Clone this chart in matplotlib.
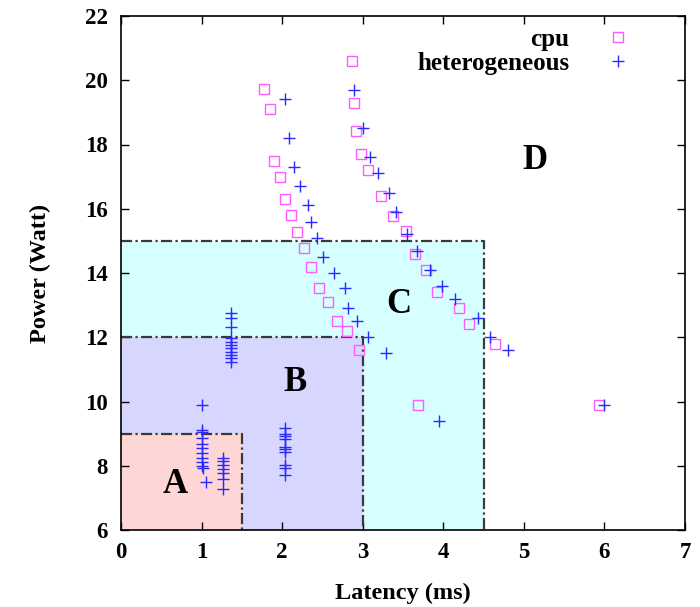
import matplotlib
matplotlib.use("Agg")
import matplotlib.pyplot as plt
from matplotlib.patches import Rectangle

plt.rcParams['font.family'] = ['Liberation Serif', 'DejaVu Serif']

# CPU data (latency ms, power W)
cpu_x = [1.78, 1.845, 1.90, 1.97, 2.035, 2.11, 2.18, 2.27, 2.36, 2.46, 2.57, 2.68, 2.81, 2.95,
         2.87, 2.89, 2.92, 2.98, 3.07, 3.23, 3.38, 3.54, 3.65, 3.78, 3.92, 4.19, 4.32, 4.64,
         3.69, 5.93]
cpu_y = [19.72, 19.10, 17.50, 17.00, 16.29, 15.80, 15.29, 14.79, 14.20, 13.52, 13.09, 12.51, 12.20, 11.59,
         20.61, 19.30, 18.42, 17.71, 17.21, 16.41, 15.78, 15.31, 14.60, 14.09, 13.40, 12.90, 12.40, 11.79,
         9.89, 9.89]

# Heterogeneous data
het_x = [2.04, 2.09, 2.15, 2.22, 2.32, 2.36, 2.43, 2.51, 2.64, 2.78, 2.82, 2.93, 3.06, 3.29,
         2.89, 3.00, 3.09, 3.19, 3.33, 3.41, 3.55, 3.67, 3.83, 3.99, 4.15, 4.43, 4.58, 4.80,
         5.99, 3.95,
         1.00, 1.00, 1.00, 1.00, 1.00, 1.00, 1.00, 1.00, 1.00, 1.01, 1.02, 1.05,
         1.27, 1.27, 1.27, 1.27, 1.27, 1.27, 1.27,
         2.04, 2.04, 2.04, 2.04, 2.04, 2.04, 2.04, 2.04, 2.04, 2.04,
         1.36, 1.36, 1.36, 1.36, 1.36, 1.36, 1.36, 1.36, 1.36, 1.36, 1.36]
het_y = [19.41, 18.20, 17.30, 16.71, 16.11, 15.60, 15.09, 14.50, 14.00, 13.52, 12.90, 12.51, 12.00, 11.50,
         19.71, 18.50, 17.60, 17.10, 16.50, 15.90, 15.21, 14.70, 14.09, 13.60, 13.20, 12.61, 12.00, 11.59,
         9.89, 9.38,
         9.89, 9.11, 9.04, 8.85, 8.67, 8.54, 8.39, 8.23, 8.13, 8.00, 7.92, 7.48,
         8.25, 8.15, 8.02, 7.90, 7.77, 7.60, 7.28,
         9.18, 9.00, 8.94, 8.83, 8.59, 8.52, 8.44, 8.02, 7.92, 7.71,
         12.75, 12.59, 12.31, 11.97, 11.86, 11.76, 11.66, 11.55, 11.45, 11.34, 11.24]

# Regions
region_names = ['C', 'B', 'A']
region_x = [4.5, 3.0, 1.5]
region_y = [15.0, 12.0, 9.0]
region_colors = ['#d6ffff', '#d6d6ff', '#ffd6d6']
label_names = ['A', 'B', 'C', 'D']
label_x = [0.67, 2.16, 3.45, 5.14]
label_y = [7.43, 10.58, 13.03, 17.5]

fig = plt.figure(figsize=(7.0, 6.07), dpi=100)
ax = fig.add_axes([121/700, 77/607, 564/700, 514/607])

x0, y0 = 0, 6
for name, rx, ry, c in zip(region_names, region_x, region_y, region_colors):
    ax.add_patch(Rectangle((x0, y0), rx - x0, ry - y0, facecolor=c, edgecolor='none', zorder=1))
    ax.plot([x0, rx, rx], [ry, ry, y0], color='#3a3a3a', lw=1.6, ls=(0, (5, 1.5, 1, 1.5)), zorder=2)

ax.plot(cpu_x, cpu_y, ls='none', marker='s', markersize=7.5, markerfacecolor='none',
        markeredgecolor='#ff5cff', markeredgewidth=1.0, label='cpu', zorder=3)
ax.plot(het_x, het_y, ls='none', marker='+', markersize=8, color='#2a2aff',
        markeredgewidth=1.0, label='heterogeneous', zorder=4)

for n, lx, ly in zip(label_names, label_x, label_y):
    ax.text(lx, ly, n, fontsize=25, fontweight='bold', ha='center', va='center', zorder=5)

ax.set_xlim(0, 7)
ax.set_ylim(6, 22)
ax.set_xticks(range(0, 8))
ax.set_yticks(range(6, 23, 2))
ax.tick_params(direction='in', top=True, right=True, length=6, width=1, labelsize=16.5)
ax.tick_params(axis='x', pad=9)
ax.tick_params(axis='y', pad=9.5)
for lab in ax.get_xticklabels() + ax.get_yticklabels():
    lab.set_fontweight('bold')
for s in ax.spines.values():
    s.set_linewidth(1.2)

ax.set_xlabel('Latency (ms)', fontsize=17.5, fontweight='bold', labelpad=14)
ax.set_ylabel('Power (Watt)', fontsize=17.5, fontweight='bold', labelpad=24)

leg = ax.legend(loc='upper right', bbox_to_anchor=(0.944, 0.997), frameon=False, markerfirst=False,
                prop={'weight': 'bold', 'size': 18}, handletextpad=0.96, borderaxespad=0.0,
                labelspacing=0.06, handlelength=2.0)
for t in leg.get_texts():
    t.set_ha('right')
leg._legend_box.align = 'right'

fig.savefig('out.png', dpi=100)
